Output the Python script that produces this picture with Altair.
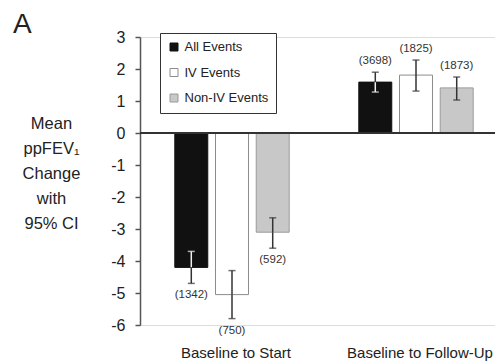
import altair as alt
import pandas as pd

groups = ["Baseline to Start", "Baseline to Follow-Up"]
series = ["All Events", "IV Events", "Non-IV Events"]

start_mean = [-4.2, -5.05, -3.1]
start_lo = [-4.7, -5.8, -3.6]
start_hi = [-3.7, -4.3, -2.65]
start_n = [1342, 750, 592]

follow_mean = [1.59, 1.81, 1.41]
follow_lo = [1.28, 1.31, 1.03]
follow_hi = [1.9, 2.28, 1.75]
follow_n = [3698, 1825, 1873]

y_ticks = [-6, -5, -4, -3, -2, -1, 0, 1, 2, 3]

fills = ["#111111", "#ffffff", "#c8c8c8"]
strokes = ["#111111", "#8c8c8c", "#9a9a9a"]
FONT = "Liberation Sans, Arial"

rows = []
for g, means, los, his, ns in [
    (groups[0], start_mean, start_lo, start_hi, start_n),
    (groups[1], follow_mean, follow_lo, follow_hi, follow_n),
]:
    for s, m, lo, hi, n in zip(series, means, los, his, ns):
        inner = hi if m < 0 else lo
        outer = lo if m < 0 else hi
        rows.append(dict(group=g, series=s, mean=m, lo=lo, hi=hi, n=n,
                         label=f"({n})", inner=inner, outer=outer))
df = pd.DataFrame(rows)

seg_rows = []
for r in rows:
    for part in ["inner", "outer"]:
        seg_rows.append(dict(group=r["group"], series=r["series"], part=part,
                             y0=r["mean"], y1=r[part]))
seg = pd.DataFrame(seg_rows)

x_enc = alt.X("group:N", sort=groups,
              scale=alt.Scale(range=[0, 368], paddingInner=0, paddingOuter=0),
              axis=alt.Axis(title=None, domain=False, ticks=False, labelAngle=0,
                            labelPadding=20, labelFontSize=15, labelOffset=4,
                            labelColor="#222222", labelFont=FONT))
xoff = alt.XOffset("series:N", sort=series,
                   scale=alt.Scale(paddingInner=0.19, paddingOuter=0.855))
y_scale = alt.Scale(domain=[-6, 3], nice=False)
y_axis = alt.Axis(values=y_ticks, grid=False, labelOverlap=False,
                  labelExpr="'' + datum.value",
                  domainColor="#555555", domainWidth=1.5,
                  tickColor="#555555", tickWidth=1.5, tickSize=5,
                  labelPadding=10, labelFontSize=16, labelColor="#222222",
                  labelFont=FONT,
                  title=["Mean", "ppFEV₁", "Change", "with", "95% CI"],
                  titleAngle=0, titleAlign="center", titleBaseline="middle",
                  titleX=-89, titleY=86, titleLineHeight=25,
                  titleFontSize=16.5, titleFontWeight="normal",
                  titleColor="#222222", titleFont=FONT)

leg = alt.Legend(title=None, orient="none", legendX=20, legendY=-4,
                 symbolType="square", symbolSize=64,
                 symbolStrokeWidth=1, labelFontSize=13,
                 labelFont=FONT, labelColor="#222222",
                 labelOffset=4, rowPadding=11.5, padding=7.5,
                 strokeColor="#333333", fillColor="white")

bars = alt.Chart(df).mark_bar(strokeWidth=1).encode(
    x=x_enc,
    xOffset=xoff,
    y=alt.Y("mean:Q", scale=y_scale, axis=y_axis),
    y2=alt.datum(0),
    fill=alt.Fill("series:N", sort=series,
                  scale=alt.Scale(domain=series, range=fills), legend=leg),
    stroke=alt.Stroke("series:N", sort=series,
                      scale=alt.Scale(domain=series, range=strokes), legend=leg),
)

err_color = alt.when((alt.datum.series == "All Events") & (alt.datum.part == "inner")) \
    .then(alt.value("#f0f0f0")).otherwise(alt.value("#333333"))

err = alt.Chart(seg).mark_rule(strokeWidth=1.5).encode(
    x=x_enc, xOffset=xoff,
    y=alt.Y("y0:Q", scale=y_scale, axis=y_axis), y2="y1:Q",
    color=err_color,
)
caps = alt.Chart(seg).mark_tick(orient="horizontal", size=7, thickness=1.5).encode(
    x=x_enc, xOffset=xoff,
    y=alt.Y("y1:Q", scale=y_scale, axis=y_axis),
    color=err_color,
)

zero = alt.Chart(df).mark_rule(color="#333333", strokeWidth=1.5).encode(
    y=alt.YDatum(0, scale=y_scale, axis=y_axis), x=alt.value(0), x2=alt.value(363)
)

lab_neg = alt.Chart(df).transform_filter(alt.datum.mean < 0).mark_text(
    fontSize=11.5, baseline="middle", dy=12, color="#333333", font=FONT
).encode(x=x_enc, xOffset=xoff, y=alt.Y("outer:Q", scale=y_scale, axis=y_axis),
         text="label:N")

lab_pos = alt.Chart(df).transform_filter(alt.datum.mean >= 0).mark_text(
    fontSize=11.5, baseline="middle", dy=-11, color="#333333", font=FONT
).encode(x=x_enc, xOffset=xoff, y=alt.Y("outer:Q", scale=y_scale, axis=y_axis),
         text="label:N")

panel = alt.Chart(pd.DataFrame({"t": ["A"]})).mark_text(
    fontSize=28, align="left", baseline="alphabetic", color="#222222", font=FONT
).encode(text="t:N", x=alt.value(-127), y=alt.value(-4))

chart = alt.layer(bars, zero, err, caps, lab_neg, lab_pos, panel).properties(
    width=355, height=288,
    autosize="none",
    padding={"left": 132, "top": 29, "right": 0, "bottom": 38},
).configure_view(stroke=None).configure(font=FONT)

chart.save("out.html", embed_options={"renderer": "svg", "actions": False})
